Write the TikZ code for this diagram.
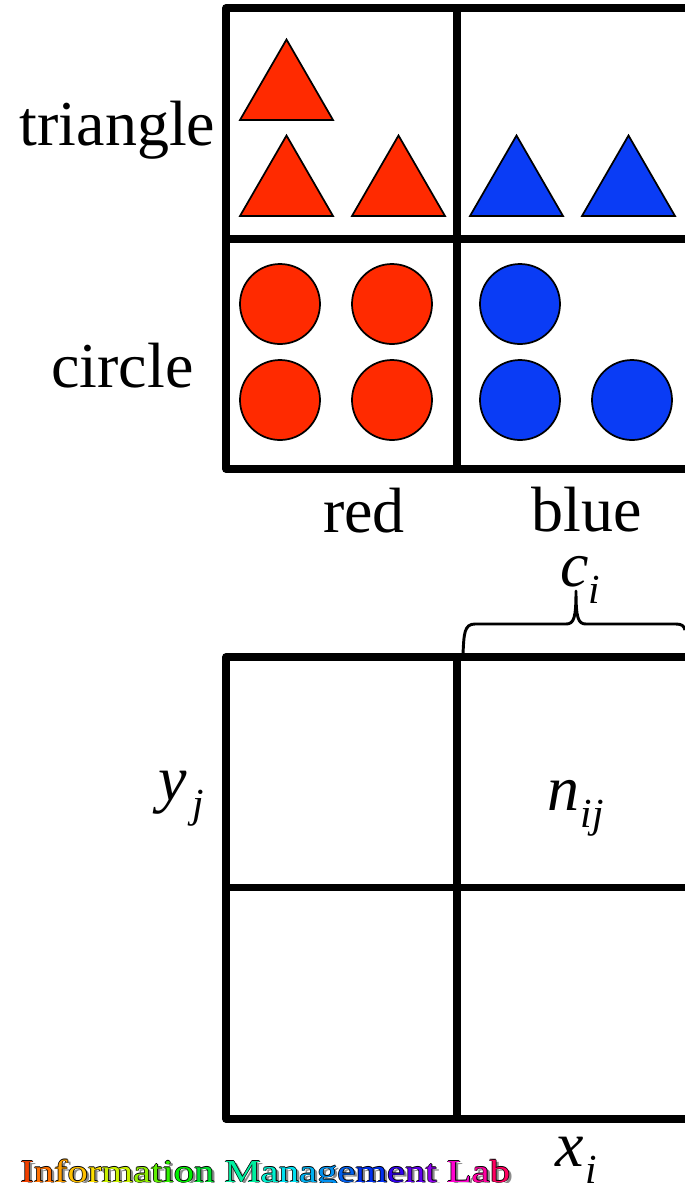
\documentclass[tikz,border=0pt]{standalone}
\usepackage{fontspec}
\setmainfont{Liberation Serif}
\usepackage{xcolor}
\definecolor{ShapeRed}{HTML}{FF2A00}
\definecolor{ShapeBlue}{HTML}{0A3CF5}
\newcommand{\rainbowlab}{%
\textcolor[HTML]{F04000}{I}\textcolor[HTML]{FF7000}{n}\textcolor[HTML]{FFA000}{f}\textcolor[HTML]{FFC000}{o}\textcolor[HTML]{FFE000}{r}\textcolor[HTML]{C8F000}{m}\textcolor[HTML]{90F000}{a}\textcolor[HTML]{60F000}{t}\textcolor[HTML]{30F000}{i}\textcolor[HTML]{00F000}{o}\textcolor[HTML]{00E030}{n} %
\textcolor[HTML]{00F0A0}{M}\textcolor[HTML]{00F0D0}{a}\textcolor[HTML]{00E0F0}{n}\textcolor[HTML]{00B0F0}{a}\textcolor[HTML]{0090F0}{g}\textcolor[HTML]{0060F0}{e}\textcolor[HTML]{0030F0}{m}\textcolor[HTML]{3000F0}{e}\textcolor[HTML]{6000F0}{n}\textcolor[HTML]{9000F0}{t} %
\textcolor[HTML]{FF00D0}{L}\textcolor[HTML]{FF00A0}{a}\textcolor[HTML]{FF0060}{b}}
\newcommand{\blacklab}{Information Management Lab}
\newcommand{\italsub}[2]{\textit{#1}\raisebox{-0.28em}{\fontsize{31}{31}\selectfont\textit{#2}}}
\begin{document}
\begin{tikzpicture}[x=0.75pt,y=-0.75pt,
 every node/.style={font=\fontsize{48}{48}\selectfont,inner sep=0pt},
 gridline/.style={line width=5.6pt,line join=round,line cap=round},
 tri/.style={draw=black,line width=1.3pt,line join=miter},
 circ/.style={draw=black,line width=1.3pt},
 labmark/.style={anchor=base west,font=\fontsize{24}{24}\selectfont,xscale=1.27,transform shape}]
\useasboundingbox (0,0) rectangle (685,1183);
% upper table
\draw[gridline] (688,8)--(226,8)--(226,469)--(688,469);
\draw[gridline,line cap=butt] (457,8)--(457,469);
\draw[gridline,line cap=butt] (226,239)--(685,239);
% triangles
\foreach \x/\y in {240/120,240/216,352/216} {
 \filldraw[tri,fill=ShapeRed] (\x,\y)--++(93,0)--++(-46.5,-80.5)--cycle;
}
\foreach \x/\y in {470/216,582/216} {
 \filldraw[tri,fill=ShapeBlue] (\x,\y)--++(93,0)--++(-46.5,-80.5)--cycle;
}
% circles
\foreach \x/\y in {280/304,392/304,280/400,392/400} {
 \filldraw[circ,fill=ShapeRed] (\x,\y) circle (40);
}
\foreach \x/\y in {520/304,520/400,632/400} {
 \filldraw[circ,fill=ShapeBlue] (\x,\y) circle (40);
}
\node (triangle) at (117.5,130) {triangle};
\node (circle) at (122.5,366) {circle};
\node (red) at (364,511) {red};
\node (blue) at (587,510) {blue};
% lower table
\draw[gridline] (688,657)--(226,657)--(226,1119)--(688,1119);
\draw[gridline,line cap=butt] (457,657)--(457,1119);
\draw[gridline,line cap=butt] (226,887.5)--(685,887.5);
\draw[line width=2.2pt,line join=round] (463,654) .. controls (464,634) and (464,624) .. (475,624)
 -- (566,624) .. controls (574,624) and (576,618) .. (576,591)
 .. controls (576,618) and (578,624) .. (586,624) -- (676,624) .. controls (682,624) and (684,626) .. (685,630);
\node[anchor=base west] (ci) at (560,586) {\italsub{c}{i}};
\node[anchor=base west] (yj) at (158,800) {\italsub{y}{\kern4pt j}};
\node[anchor=base west] (nij) at (547,810) {\italsub{n}{\kern1pt ij}};
\node[anchor=base west] (xi) at (555,1166) {\italsub{x}{\kern1pt i}};
% lab mark
\node[labmark,text=black!45] (labshadow) at (23,1184.5) {\blacklab};
\foreach \dx/\dy [count=\k] in {-0.8/0,0.8/0,0/-0.8,0/0.8} {
 \node[labmark,text=black] (labedge\k) at (20+\dx,1182+\dy) {\blacklab};
}
\node[labmark] (lab) at (20,1182) {\rainbowlab};
\end{tikzpicture}
\end{document}
